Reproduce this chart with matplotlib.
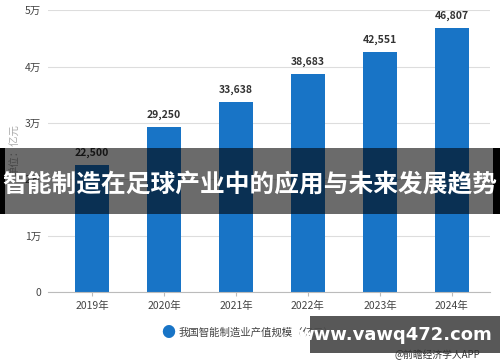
import matplotlib
matplotlib.use("Agg")
import matplotlib.pyplot as plt
from matplotlib.patches import Rectangle

plt.rcParams['font.family'] = ['Noto Sans CJK SC', 'DejaVu Sans']

years = ['2019年', '2020年', '2021年', '2022年', '2023年', '2024年']
values = [22500, 29250, 33638, 38683, 42551, 46807]
ytick_vals = [0, 10000, 20000, 30000, 40000, 50000]
ytick_labels = ['0', '1万', '2万', '3万', '4万', '5万']

fig = plt.figure(figsize=(5, 3.62), dpi=100)
ax = fig.add_axes([0.096, 0.193, 0.884, 0.779])

x = list(range(len(years)))
ax.bar(x, values, width=0.47, color='#1874c6', zorder=2)
for xi, v in zip(x, values):
    ax.text(xi, v + 1300, f'{v:,}', ha='center', va='bottom',
            fontsize=7.5, fontweight='bold', color='#333333')

ax.set_xlim(-0.61, 5.53)
ax.set_ylim(0, 50000)
ax.set_xticks(x)
ax.set_xticklabels(years, fontsize=7.5, color='#444444')
ax.set_yticks(ytick_vals)
ax.set_yticklabels(ytick_labels, fontsize=7.5, color='#444444')
ax.tick_params(axis='y', length=0, pad=5)
ax.tick_params(axis='x', length=3, color='#bbbbbb', pad=3)
ax.grid(axis='y', color='#dddddd', linewidth=0.8, zorder=0)
for s in ['top', 'right', 'left']:
    ax.spines[s].set_visible(False)
ax.spines['bottom'].set_color('#bbbbbb')

fig.text(0.03, 0.585, '单位：亿元', rotation=90, ha='center', va='center',
         fontsize=7.5, color='#aaaaaa')

# legend
fig.text(0.336, 0.08, '●', ha='center', va='center', fontsize=10, color='#1874c6')
fig.text(0.358, 0.08, '我国智能制造业产值规模（亿元）', ha='left', va='center',
         fontsize=7.5, color='#444444')

# overlay banner
fig.patches.append(Rectangle((0, 1 - 214 / 362), 1, 66 / 362, transform=fig.transFigure,
                             facecolor='black', alpha=0.58, zorder=5))
fig.patches.append(Rectangle((0, 1 - 214 / 362), 0.01, 66 / 362, transform=fig.transFigure,
                             facecolor='black', zorder=5))
fig.patches.append(Rectangle((0.986, 1 - 214 / 362), 0.014, 66 / 362, transform=fig.transFigure,
                             facecolor='black', zorder=5))
fig.text(0.5, 1 - 185 / 362, '智能制造在足球产业中的应用与未来发展趋势', ha='center', va='center',
         fontsize=17.8, fontweight='bold', color='white', zorder=6)

# site watermark box
fig.patches.append(Rectangle((0.62, 1 - 353 / 362), 0.38, 37 / 362, transform=fig.transFigure,
                             facecolor='#4a4a4a', alpha=0.92, zorder=5))
fig.text(0.79, 1 - 335 / 362, 'www.vawq472.com', ha='center', va='center',
         fontsize=13, fontweight='bold', color='white', zorder=6,
         family=['DejaVu Sans'])
fig.text(0.96, 1 - 355 / 362, '@前瞻经济学人APP', ha='right', va='center',
         fontsize=7, color='#333333', zorder=6)

fig.savefig('out.png', dpi=100)
